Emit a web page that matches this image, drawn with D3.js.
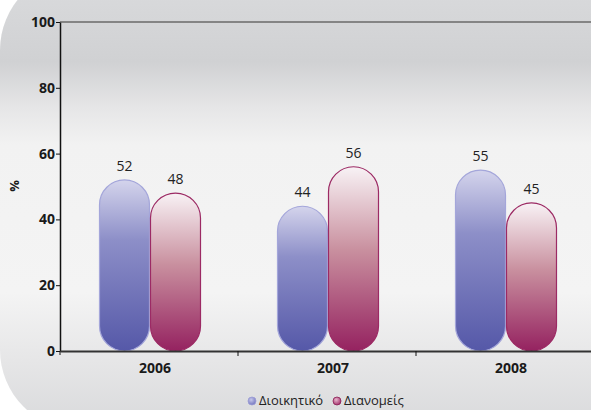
<!DOCTYPE html>
<html>
<head>
<meta charset="utf-8">
<script src="https://cdn.jsdelivr.net/npm/d3@7"></script>
<style>
  body { margin: 0; background: #fff; }
  svg { display: block; font-family: "Open Sans", "DejaVu Sans", sans-serif; }
</style>
</head>
<body>
<div class="canvas"></div>
<script>
// data
const years = ['2006', '2007', '2008'];
const dioikitiko = [52, 44, 55];
const dianomeis = [48, 56, 45];
const yTicks = [0, 20, 40, 60, 80, 100];
const seriesNames = ['Διοικητικό', 'Διανομείς'];

const width = 591, height = 410;
const margin = {top: 22, right: -3, bottom: 59, left: 60};
const graphWidth = width - margin.left - margin.right;
const graphHeight = height - margin.top - margin.bottom;

const svg = d3.select('.canvas').append('svg')
    .attr('width', width)
    .attr('height', height);

const defs = svg.append('defs');

// background gradient
const bg = defs.append('linearGradient')
    .attr('id', 'bg').attr('x1', 0).attr('y1', 0).attr('x2', 0).attr('y2', 1);
[[0, '#dbdcde'], [0.2, '#d0d1d3'], [0.3, '#e6e6e7'], [0.38, '#f2f2f2'], [0.7, '#f4f4f4'], [0.85, '#e6e6e7'], [1, '#d8d9db']]
    .forEach(s => bg.append('stop').attr('offset', s[0]).attr('stop-color', s[1]));

const blueGrad = defs.append('linearGradient')
    .attr('id', 'blueGrad').attr('x1', 0).attr('y1', 0).attr('x2', 0).attr('y2', 1);
blueGrad.append('stop').attr('offset', 0).attr('stop-color', '#d4d4ec');
blueGrad.append('stop').attr('offset', 0.35).attr('stop-color', '#8d8fc8');
blueGrad.append('stop').attr('offset', 1).attr('stop-color', '#5558a8');

const redGrad = defs.append('linearGradient')
    .attr('id', 'redGrad').attr('x1', 0).attr('y1', 0).attr('x2', 0).attr('y2', 1);
redGrad.append('stop').attr('offset', 0).attr('stop-color', '#f8f2f5');
redGrad.append('stop').attr('offset', 0.45).attr('stop-color', '#c9909f');
redGrad.append('stop').attr('offset', 1).attr('stop-color', '#952260');

// legend dot gradients
const dotGrads = [['dotBlue', '#c6c7ea', '#6f72bd'], ['dotRed', '#e7b6cc', '#a02a68']];
dotGrads.forEach(g => {
    const rg = defs.append('radialGradient').attr('id', g[0]).attr('cx', 0.4).attr('cy', 0.35).attr('r', 0.7);
    rg.append('stop').attr('offset', 0).attr('stop-color', g[1]);
    rg.append('stop').attr('offset', 1).attr('stop-color', g[2]);
});

// rounded background panel
svg.append('rect')
    .attr('x', 0).attr('y', -30)
    .attr('width', width + 100).attr('height', height + 50)
    .attr('rx', 80).attr('ry', 80)
    .attr('fill', 'url(#bg)');

const graph = svg.append('g')
    .attr('transform', `translate(${margin.left},${margin.top})`);

const x0 = d3.scaleBand().domain(years).range([0, graphWidth]);
const x1 = d3.scaleBand().domain([0, 1]).range([0, 102]);
const y = d3.scaleLinear().domain([0, 100]).range([graphHeight, 0]);

// top line at 100
graph.append('line')
    .attr('x1', 0).attr('x2', width)
    .attr('y1', y(100)).attr('y2', y(100))
    .attr('stroke', '#858585').attr('stroke-width', 2);

const data = years.map((yr, i) => ({year: yr, values: [dioikitiko[i], dianomeis[i]]}));

const groups = graph.selectAll('g.year')
    .data(data).enter().append('g')
    .attr('class', 'year')
    .attr('transform', d => `translate(${x0(d.year) + x0.bandwidth() / 2 - 51 + 1},0)`);

const fills = ['url(#blueGrad)', 'url(#redGrad)'];
const strokes = ['#a4a6da', '#9c2a64'];

groups.selectAll('rect')
    .data(d => d.values).enter().append('rect')
    .attr('x', (d, i) => x1(i) + 0.5)
    .attr('y', d => y(d))
    .attr('width', x1.bandwidth() - 1)
    .attr('height', d => y(0) - y(d))
    .attr('rx', (x1.bandwidth() - 1) / 2)
    .attr('fill', (d, i) => fills[i])
    .attr('stroke', (d, i) => strokes[i])
    .attr('stroke-width', 1.2);

groups.selectAll('text.val')
    .data(d => d.values).enter().append('text')
    .attr('class', 'val')
    .attr('x', (d, i) => x1(i) + x1.bandwidth() / 2)
    .attr('y', d => y(d) - 9)
    .attr('text-anchor', 'middle')
    .attr('font-size', 14)
    .attr('fill', '#222')
    .text(d => d);

// axes
const yAxis = d3.axisLeft(y).tickValues(yTicks).tickSize(4).tickSizeOuter(0);
const yAxisGroup = graph.append('g').call(yAxis);
yAxisGroup.select('.domain').attr('stroke', '#111').attr('stroke-width', 1.5);
yAxisGroup.selectAll('.tick line').attr('stroke', '#111');
yAxisGroup.selectAll('text')
    .attr('font-size', 14).attr('font-weight', 'bold').attr('fill', '#1a1a1a')
    .attr('x', -5).attr('font-family', '"Open Sans", sans-serif');

const xAxis = d3.axisBottom(x0).tickSize(0).tickSizeOuter(0);
const xAxisGroup = graph.append('g')
    .attr('transform', `translate(0,${graphHeight})`)
    .call(xAxis);
xAxisGroup.select('.domain').attr('stroke', '#333').attr('stroke-width', 2);
xAxisGroup.selectAll('text')
    .attr('font-size', 14).attr('font-weight', 'bold').attr('fill', '#1a1a1a')
    .attr('dy', 0).attr('y', 22).attr('dx', 6).attr('font-family', '"Open Sans", sans-serif');

// small separators between categories
graph.selectAll('line.sep')
    .data(years.slice(1)).enter().append('line')
    .attr('class', 'sep')
    .attr('x1', d => x0(d)).attr('x2', d => x0(d))
    .attr('y1', graphHeight).attr('y2', graphHeight + 5)
    .attr('stroke', '#111');
graph.append('line')
    .attr('x1', 0).attr('x2', 0)
    .attr('y1', graphHeight).attr('y2', graphHeight + 4)
    .attr('stroke', '#111');

// y label
svg.append('text')
    .attr('transform', 'translate(19,186) rotate(-90)')
    .attr('text-anchor', 'middle')
    .attr('font-size', 13).attr('font-weight', 'bold').attr('fill', '#1a1a1a')
    .text('%');

// legend
const legend = svg.append('g').attr('transform', 'translate(252,401)');
const legendX = [0, 85];
seriesNames.forEach((name, i) => {
    legend.append('circle')
        .attr('cx', legendX[i]).attr('cy', 0).attr('r', 4)
        .attr('fill', i ? 'url(#dotRed)' : 'url(#dotBlue)')
        .attr('stroke', i ? '#8a1f55' : '#9a9cd6').attr('stroke-width', 0.8);
    legend.append('text')
        .attr('x', legendX[i] + 7).attr('y', 4)
        .attr('font-size', 13).attr('fill', '#222')
        .text(name);
});
</script>
</body>
</html>
